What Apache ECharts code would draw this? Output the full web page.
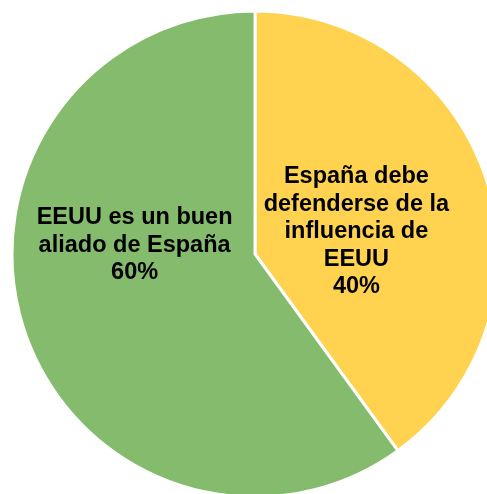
<!DOCTYPE html>
<html><head><meta charset="utf-8">
<script src="https://cdn.jsdelivr.net/npm/echarts@6/dist/echarts.min.js"></script>
<style>html,body{margin:0;padding:0;background:#fff}#c{width:487px;height:494px}</style>
</head><body><div id="c"></div>
<script>
const categories = ["España debe\ndefenderse de la\ninfluencia de\nEEUU", "EEUU es un buen\naliado de España"];
const values = [40, 60];
const colors = ["#FFD24F", "#84BB6C"];
const offsets = [[-17, 16], [-2, -47]];

const chart = echarts.init(document.getElementById('c'), null, {renderer: 'canvas'});
chart.setOption({
  animation: false,
  series: [{
    type: 'pie',
    center: [255, 254],
    radius: [0, 243],
    startAngle: 90,
    clockwise: true,
    itemStyle: {borderColor: '#fff', borderWidth: 3},
    label: {
      show: true, position: 'inside',
      formatter: p => p.name + '\n' + p.value + '%',
      color: '#000', fontFamily: 'Liberation Sans, Arial, sans-serif',
      fontWeight: 'bold', fontSize: 23.5, lineHeight: 27.5, align: 'center'
    },
    labelLine: {show: false},
    emphasis: {disabled: true},
    data: categories.map((n, i) => ({name: n, value: values[i], itemStyle: {color: colors[i]}, label: {offset: offsets[i]}}))
  }]
});
</script></body></html>
